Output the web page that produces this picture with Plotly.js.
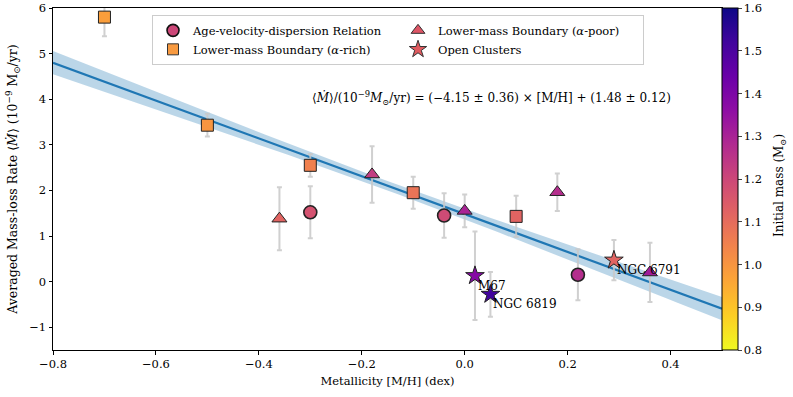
<!DOCTYPE html>
<html><head><meta charset="utf-8">
<script src="https://cdn.plot.ly/plotly-3.0.1.min.js"></script>
<style>html,body{margin:0;padding:0;background:#fff}</style>
</head><body><div id="chart" style="width:793px;height:397px"></div>
<script>
// Age-velocity-dispersion relation (circles)
const avdX = [-0.30, -0.04, 0.22];
const avdY = [1.52, 1.45, 0.15];
const avdErr = [0.57, 0.49, 0.56];
const avdMass = [1.17, 1.19, 1.27];
// Lower-mass boundary alpha-rich (squares)
const richX = [-0.70, -0.50, -0.30, -0.10, 0.10];
const richY = [5.80, 3.43, 2.55, 1.95, 1.43];
const richErr = [0.42, 0.25, 0.25, 0.35, 0.45];
const richMass = [0.98, 1.00, 1.05, 1.08, 1.12];
// Lower-mass boundary alpha-poor (triangles)
const poorX = [-0.36, -0.18, 0.00, 0.18, 0.36];
const poorY = [1.38, 2.35, 1.55, 1.96, 0.20];
const poorErr = [0.69, 0.62, 0.36, 0.41, 0.65];
const poorMass = [1.12, 1.23, 1.30, 1.27, 1.32];
// Open clusters (stars)
const ocNames = ["M67", "NGC 6819", "NGC 6791"];
const ocX = [0.02, 0.05, 0.29];
const ocY = [0.13, -0.28, 0.47];
const ocErr = [0.97, 0.49, 0.44];
const ocMass = [1.38, 1.52, 1.12];
// Fit: <Mdot> = slope*[M/H] + intercept
const fitSlope = -4.15, fitSlopeErr = 0.36;
const fitIntercept = 1.48, fitInterceptErr = 0.12;
const fitXRange = [-0.8, 0.5];
// ticks
const cbTicks = [0.8, 0.9, 1.0, 1.1, 1.2, 1.3, 1.4, 1.5, 1.6];
const xTicks = [-0.8, -0.6, -0.4, -0.2, 0.0, 0.2, 0.4];
const yTicks = [-1, 0, 1, 2, 3, 4, 5, 6];

const plasmaR = [[0,'#f0f921'],[0.1,'#fcce25'],[0.2,'#fca636'],[0.3,'#f2844b'],[0.4,'#e16462'],
  [0.5,'#cc4778'],[0.6,'#b12a90'],[0.7,'#8f0da4'],[0.8,'#6a00a8'],[0.9,'#41049d'],[1,'#0d0887']];

// fit line and confidence band from the fit coefficients
const fx = [], fy = [], fLo = [], fHi = [];
const pivot = -0.15;
for (let i = 0; i <= 60; i++) {
  const x = fitXRange[0] + (fitXRange[1]-fitXRange[0])*i/60;
  const y = fitSlope*x + fitIntercept;
  const hw = Math.sqrt(Math.pow(fitInterceptErr*0.85,2) + Math.pow((x-pivot)*fitSlopeErr,2));
  fx.push(x); fy.push(y); fLo.push(y-hw); fHi.push(y+hw);
}

const errStyle = (arr) => ({type:'data', array:arr, visible:true, color:'rgba(200,200,200,0.85)', thickness:2, width:2.5});
const mk = (symbol, mass, size, lw, showscale) => ({
  symbol: symbol, size: size, color: mass, cmin: 0.8, cmax: 1.6, colorscale: plasmaR,
  line: {color: '#222', width: lw}, showscale: !!showscale,
  colorbar: showscale ? {
    x: 1.0, xanchor: 'left', xpad: 0, y: 0, yanchor: 'bottom', ypad: 0, len: 1, lenmode: 'fraction',
    thickness: 16, thicknessmode: 'pixels', outlinecolor: '#000', outlinewidth: 1,
    tickvals: cbTicks, ticktext: cbTicks.map(v => v.toFixed(1)), ticks: 'outside', ticklen: 3.5,
    tickfont: {size: 11.5, color: '#000'},
    title: {text: ''}
  } : undefined
});

const traces = [
  {x: fx, y: fLo, mode: 'lines', line: {width: 0, color: 'rgba(0,0,0,0)'}, showlegend: false, hoverinfo: 'skip'},
  {x: fx, y: fHi, mode: 'lines', fill: 'tonexty', fillcolor: 'rgba(31,119,180,0.3)', line: {width: 0, color: 'rgba(0,0,0,0)'}, showlegend: false, hoverinfo: 'skip'},
  {x: fx, y: fy, mode: 'lines', line: {color: '#1f77b4', width: 2.2}, showlegend: false},
  {x: richX, y: richY, mode: 'markers', error_y: errStyle(richErr), marker: mk('square', richMass, 12, 1, false), showlegend: false},
  {x: avdX, y: avdY, mode: 'markers', error_y: errStyle(avdErr), marker: mk('circle', avdMass, 13, 1.6, true), showlegend: false},
  {x: poorX, y: poorY, mode: 'markers', error_y: errStyle(poorErr), marker: mk('triangle-up', poorMass, 13, 1, false), showlegend: false},
  {x: ocX, y: ocY, mode: 'markers', error_y: errStyle(ocErr), marker: mk('star', ocMass, 14, 1, false), showlegend: false},
  // legend entries
  {x: [null], y: [null], mode: 'markers', name: 'Age-velocity-dispersion Relation', marker: {symbol: 'circle', size: 12, color: '#cc4778', line: {color: '#111', width: 1.6}}},
  {x: [null], y: [null], mode: 'markers', name: 'Lower-mass Boundary (<i>α</i>-poor)', marker: {symbol: 'triangle-up', size: 12, color: '#dd5565', line: {color: '#333', width: 1}}},
  {x: [null], y: [null], mode: 'markers', name: 'Lower-mass Boundary (<i>α</i>-rich)', marker: {symbol: 'square', size: 11, color: '#f89a40', line: {color: '#333', width: 1}}},
  {x: [null], y: [null], mode: 'markers', name: 'Open Clusters', marker: {symbol: 'star', size: 13, color: '#e05a5f', line: {color: '#333', width: 1}}}
];

const annotations = ocNames.map((n, i) => ({
  x: ocX[i], y: ocY[i], xref: 'x', yref: 'y', text: n, showarrow: false,
  xanchor: 'left', yanchor: 'top', xshift: 1, yshift: -1, font: {size: 12, color: '#000'}
}));
annotations.push({
  x: 0.053, y: 4.03, xref: 'x', yref: 'y', showarrow: false, xanchor: 'center', yanchor: 'middle',
  text: '⟨<i>Ṁ</i>⟩/(10<sup>−9</sup><i>M</i><sub>⊙</sub>/yr) = (−4.15 ± 0.36) × [M/H] + (1.48 ± 0.12)',
  font: {size: 12, color: '#000'}
});
annotations.push({
  x: 1.087, y: 0.48, xref: 'paper', yref: 'paper', showarrow: false, textangle: -90,
  xanchor: 'center', yanchor: 'middle', text: 'Initial mass (M<sub>⊙</sub>)', font: {size: 12, color: '#000'}
});

const axisCommon = {showgrid: false, zeroline: false, showline: true, linecolor: '#000', linewidth: 1,
  mirror: true, ticks: 'outside', ticklen: 3.5, tickcolor: '#000', tickfont: {size: 11.5, color: '#000'}};

const layout = {
  width: 793, height: 397,
  margin: {l: 53, r: 71, t: 8, b: 47, autoexpand: false},
  paper_bgcolor: '#fff', plot_bgcolor: '#fff',
  font: {family: 'DejaVu Serif, serif', color: '#000'},
  xaxis: Object.assign({}, axisCommon, {range: [-0.8, 0.5], tickvals: xTicks, tickformat: '.1f',
    title: {text: 'Metallicity [M/H] (dex)', font: {size: 11.5}, standoff: 6}}),
  yaxis: Object.assign({}, axisCommon, {range: [-1.5, 6], tickvals: yTicks,
    title: {text: 'Averaged Mass-loss Rate ⟨<i>Ṁ</i>⟩ (10<sup>−9</sup> M<sub>⊙</sub>/yr)', font: {size: 12.5}, standoff: 8}}),
  showlegend: true,
  legend: {orientation: 'h', x: 0.148, xanchor: 'left', y: 0.98, yanchor: 'top',
    bgcolor: 'rgba(255,255,255,0.9)', bordercolor: '#ccc', borderwidth: 1,
    entrywidth: 200, entrywidthmode: 'pixels', font: {size: 11.5, color: '#000'}, traceorder: 'normal'},
  annotations: annotations
};

Plotly.newPlot('chart', traces, layout, {displayModeBar: false, staticPlot: true});
</script></body></html>
